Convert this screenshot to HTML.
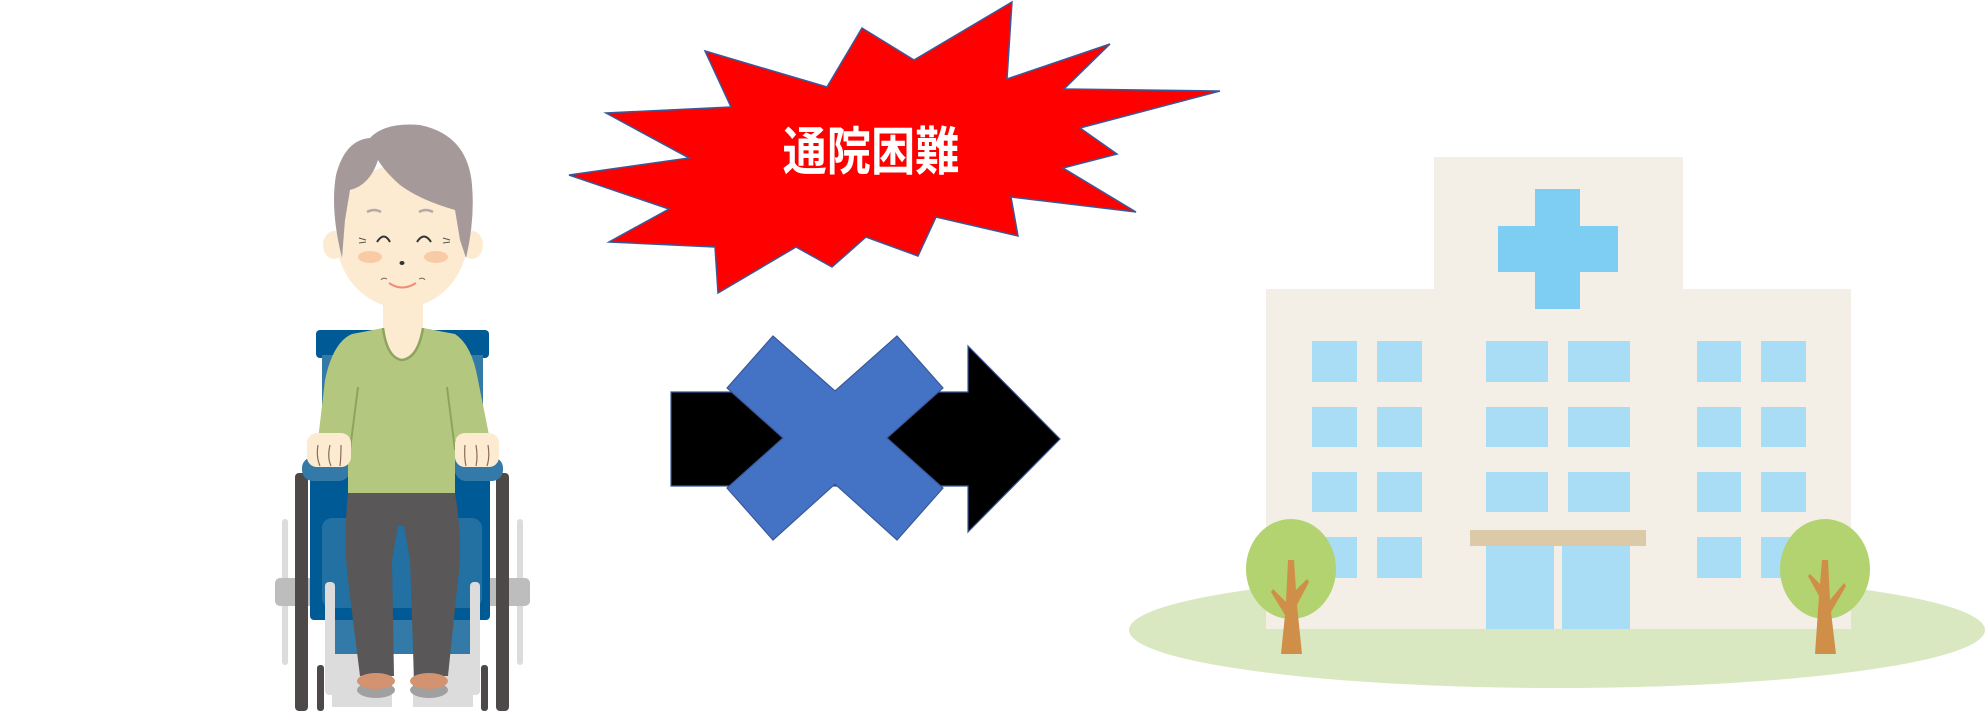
<!DOCTYPE html>
<html><head><meta charset="utf-8"><style>html,body{margin:0;padding:0;background:#fff}svg{display:block}</style></head>
<body>
<svg width="1985" height="721" viewBox="0 0 1985 721" xmlns="http://www.w3.org/2000/svg">
<rect width="1985" height="721" fill="#fff"/>
<!-- starburst -->
<polygon points="1012,2 1007,79 1110,44 1064,89 1220,91 1080,128 1117,154 1063,168 1136,212 1011,197 1018,236 936,217 918,256 866,237 832,267 796,247 718,293 715,247 609,242 669,209 569,175 689,158 606,113 731,107 705,51 827,87 862,28 914,60" fill="#ff0000" stroke="#3b5998" stroke-width="1.5"/>
<text x="871" y="170" font-family="Liberation Sans,'Noto Sans CJK JP',sans-serif" font-size="52" font-weight="bold" fill="#fff" text-anchor="middle" transform="translate(871 0) scale(0.85 1) translate(-871 0)">通院困難</text>
<!-- arrow -->
<polygon points="671,392 968,392 968,346 1060,439 968,532 968,486 671,486" fill="#000" stroke="#3b5998" stroke-width="1.2"/>
<polygon points="727,388 773,336 835,391 897,336 943,388 887,438 943,488 897,540 835,484 773,540 727,488 783,438" fill="#4472c4" stroke="#3b5998" stroke-width="1.2"/>
<!-- hospital -->
<ellipse cx="1557" cy="630" rx="428" ry="58" fill="#d9e8c1"/>
<rect x="1266" y="289" width="585" height="340" fill="#f3efe7"/>
<rect x="1434" y="157" width="249" height="135" fill="#f3efe7"/>
<rect x="1535" y="189" width="45" height="120" fill="#7ecef4"/>
<rect x="1498" y="226" width="120" height="46" fill="#7ecef4"/>
<g fill="#a9dcf5">
<rect x="1312" y="341" width="45" height="41"/><rect x="1377" y="341" width="45" height="41"/><rect x="1486" y="341" width="62" height="41"/><rect x="1568" y="341" width="62" height="41"/><rect x="1697" y="341" width="44" height="41"/><rect x="1761" y="341" width="45" height="41"/>
<rect x="1312" y="407" width="45" height="40"/><rect x="1377" y="407" width="45" height="40"/><rect x="1486" y="407" width="62" height="40"/><rect x="1568" y="407" width="62" height="40"/><rect x="1697" y="407" width="44" height="40"/><rect x="1761" y="407" width="45" height="40"/>
<rect x="1312" y="472" width="45" height="40"/><rect x="1377" y="472" width="45" height="40"/><rect x="1486" y="472" width="62" height="40"/><rect x="1568" y="472" width="62" height="40"/><rect x="1697" y="472" width="44" height="40"/><rect x="1761" y="472" width="45" height="40"/>
<rect x="1312" y="537" width="45" height="41"/><rect x="1377" y="537" width="45" height="41"/><rect x="1697" y="537" width="44" height="41"/><rect x="1761" y="537" width="45" height="41"/>
<rect x="1486" y="546" width="68" height="83"/><rect x="1562" y="546" width="68" height="83"/>
</g>
<rect x="1470" y="530" width="176" height="16" fill="#dcc9a7"/>
<ellipse cx="1291" cy="569" rx="45" ry="50" fill="#b2d36f"/>
<path d="M1288,560 L1294,560 L1296,590 L1307,579 L1309,582 L1297,605 L1302,654 L1281,654 L1285,615 L1271,592 L1273,589 L1286,602 Z" fill="#d08f48"/>
<ellipse cx="1825" cy="569" rx="45" ry="50" fill="#b2d36f"/>
<path d="M1822,560 L1828,560 L1830,600 L1844,583 L1846,586 L1831,612 L1836,654 L1815,654 L1819,596 L1808,576 L1810,574 L1820,584 Z" fill="#d08f48"/>
<!-- wheelchair -->
<rect x="282" y="519" width="6" height="146" rx="3" fill="#dcdcdc"/>
<rect x="517" y="519" width="6" height="146" rx="3" fill="#dcdcdc"/>
<rect x="275" y="578" width="255" height="28" rx="5" fill="#bdbdbd"/>
<rect x="316" y="330" width="173" height="28" rx="4" fill="#005a96"/>
<rect x="322" y="355" width="161" height="260" fill="#337aa8"/>
<rect x="310" y="473" width="180" height="147" rx="4" fill="#005a96"/>
<rect x="322" y="518" width="160" height="90" rx="10" fill="#3b7eab" opacity="0.6"/>
<rect x="335" y="620" width="135" height="34" fill="#337aa8"/>
<rect x="332" y="654" width="60" height="53" fill="#dcdcdc"/>
<rect x="413" y="654" width="60" height="53" fill="#dcdcdc"/>
<rect x="295" y="473" width="13" height="238" rx="4" fill="#4d4948"/>
<rect x="496" y="473" width="13" height="238" rx="4" fill="#4d4948"/>
<rect x="317" y="665" width="7" height="46" rx="3" fill="#4d4948"/>
<rect x="481" y="665" width="7" height="46" rx="3" fill="#4d4948"/>
<rect x="325" y="582" width="10" height="113" rx="4" fill="#dcdcdc"/>
<rect x="470" y="582" width="10" height="113" rx="4" fill="#dcdcdc"/>
<rect x="302" y="457" width="48" height="24" rx="11" fill="#337aa8"/>
<rect x="455" y="457" width="48" height="24" rx="11" fill="#337aa8"/>
<!-- person -->
<path d="M348,493 L455,493 Q463,540 458,580 L448,676 L414,676 L410,560 L404,526 L398,526 L392,560 L394,676 L360,676 L348,580 Q343,540 348,493Z" fill="#595757"/>
<ellipse cx="376" cy="690" rx="19" ry="8" fill="#a0a0a0"/>
<ellipse cx="429" cy="690" rx="19" ry="8" fill="#a0a0a0"/>
<ellipse cx="376" cy="681" rx="19" ry="8" fill="#d39270"/>
<ellipse cx="429" cy="681" rx="19" ry="8" fill="#d39270"/>
<rect x="383" y="300" width="40" height="40" fill="#fdebd1"/>
<path d="M352,334 L383,328 L423,328 L455,334 Q472,345 478,380 L490,440 L455,440 L455,493 L348,493 L348,440 L318,440 L325,380 Q333,342 352,334Z" fill="#b3c77e"/>
<path d="M383,328 Q387,358 402,360 Q418,358 423,328" fill="#fdebd1" stroke="#8ea35e" stroke-width="2.5"/>
<path d="M358,387 L350,450 M447,387 L455,450" stroke="#8ea35e" stroke-width="2" fill="none"/>
<rect x="307" y="433" width="44" height="34" rx="10" fill="#fdebd1"/>
<rect x="455" y="433" width="44" height="34" rx="10" fill="#fdebd1"/>
<path d="M318,445 Q316,457 320,466 M330,445 Q327,457 331,466 M341,445 Q341,457 340,466 M465,445 Q464,457 466,466 M476,445 Q478,457 476,466 M488,445 Q490,457 487,466" stroke="#8a6a5a" stroke-width="1.2" fill="none"/>
<ellipse cx="334" cy="245" rx="11" ry="14" fill="#fdebd1"/>
<ellipse cx="472" cy="245" rx="11" ry="14" fill="#fdebd1"/>
<ellipse cx="402" cy="236" rx="66" ry="72" fill="#fdebd1"/>
<path d="M342,258 Q330,210 336,175 Q345,140 370,138 Q385,122 420,125 Q468,135 472,185 Q475,220 466,258 L460,240 L455,210 Q420,200 400,185 Q385,172 378,160 Q370,185 350,190 L345,220 Z" fill="#a69999"/>
<path d="M367,212 Q374,208 381,212 M419,212 Q426,208 433,212" stroke="#b5a8a8" stroke-width="2.5" fill="none"/>
<path d="M390,242 Q384,231 377,242 M431,242 Q424,231 417,242" stroke="#333" stroke-width="2" fill="none"/>
<path d="M359,238 L366,240 M359,243 L366,242 M443,238 L450,240 M443,243 L450,242" stroke="#555" stroke-width="1"/>
<ellipse cx="370" cy="257" rx="12" ry="6" fill="#f8cba6"/>
<ellipse cx="436" cy="257" rx="12" ry="6" fill="#f8cba6"/>
<path d="M389,283 Q402,292 416,283" stroke="#f08c7a" stroke-width="2" fill="none"/>
<path d="M381,280 Q383,277 387,279 M419,279 Q423,277 425,280" stroke="#8a6a5a" stroke-width="1" fill="none"/>
<ellipse cx="402" cy="263" rx="2.5" ry="2" fill="#333"/>
</svg>
</body></html>
